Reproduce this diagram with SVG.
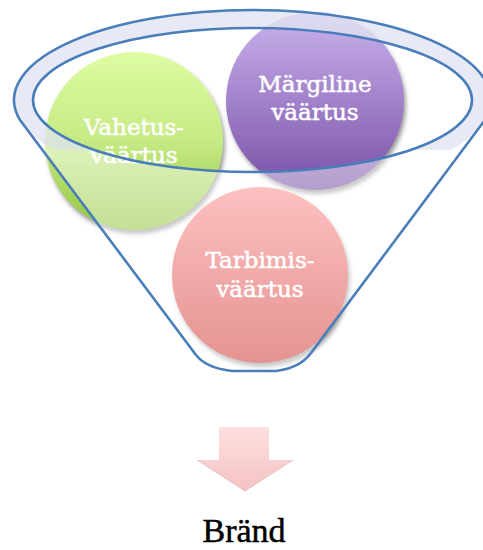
<svg xmlns="http://www.w3.org/2000/svg" width="483" height="550" viewBox="0 0 483 550">
<style>
.lbl{font-family:"DejaVu Serif","Liberation Serif",serif;font-size:23px;fill:#ffffff;stroke:#ffffff;stroke-width:0.5;text-anchor:middle}
.brand{font-family:"Liberation Serif","DejaVu Serif",serif;font-size:34px;fill:#000000;stroke:#000000;stroke-width:0.5;text-anchor:middle}
.line{fill:none;stroke:#4a7ebb;stroke-width:2.6;stroke-linejoin:round}
</style>
<defs>
<linearGradient id="gGreen" x1="0" y1="0" x2="0" y2="1"><stop offset="0" stop-color="#defda2"/><stop offset="0.5" stop-color="#c6ea84"/><stop offset="1" stop-color="#92c53e"/></linearGradient>
<linearGradient id="gPurple" x1="0" y1="0" x2="0" y2="1"><stop offset="0" stop-color="#cbb3ee"/><stop offset="1" stop-color="#7850a6"/></linearGradient>
<linearGradient id="gPink" x1="0" y1="0" x2="0" y2="1"><stop offset="0" stop-color="#fb8e8e"/><stop offset="1" stop-color="#cf3a36"/></linearGradient>
<linearGradient id="gArrow" x1="0" y1="0" x2="0" y2="1"><stop offset="0" stop-color="#fde0e0"/><stop offset="1" stop-color="#f5c2c2"/></linearGradient>
<filter id="shadow" x="-10%" y="-10%" width="125%" height="130%">
<feGaussianBlur in="SourceAlpha" stdDeviation="2"/>
<feOffset dx="2" dy="4" result="b"/>
<feFlood flood-color="#7a7a7a" flood-opacity="0.75"/>
<feComposite in2="b" operator="in" result="s"/>
<feMerge><feMergeNode in="s"/><feMergeNode in="SourceGraphic"/></feMerge>
</filter>
<clipPath id="bandClip"><rect x="0" y="0" width="483" height="150"/></clipPath>
</defs>
<g id="node-vahetus">
<circle cx="134" cy="141" r="89" fill="url(#gGreen)" filter="url(#shadow)"/>
<text class="lbl" x="134" y="135">Vahetus-</text>
<text class="lbl" x="134" y="163">väärtus</text>
</g>
<g id="node-margiline">
<circle cx="315" cy="101" r="89" fill="url(#gPurple)" filter="url(#shadow)"/>
<text class="lbl" x="315" y="92">Märgiline</text>
<text class="lbl" x="315" y="120">väärtus</text>
</g>
<g id="node-tarbimis">
<circle cx="260" cy="275" r="88" fill="url(#gPink)" filter="url(#shadow)"/>
<text class="lbl" x="260" y="268">Tarbimis-</text>
<text class="lbl" x="260" y="297">väärtus</text>
</g>
<g id="node-funnel">
<path d="M20,120 A238.5,90 0 1 1 485,120 L311,353 Q300,368 276,371 L232,371 Q206,368 196,355 Z M33,100 A219.5,72 0 1 0 472,100 A219.5,72 0 1 0 33,100 Z" fill="#ffffff" fill-opacity="0.45" fill-rule="evenodd"/>
<path clip-path="url(#bandClip)" d="M14,100 A238.5,90 0 1 0 491,100 A238.5,90 0 1 0 14,100 Z M33,100 A219.5,72 0 1 0 472,100 A219.5,72 0 1 0 33,100 Z" fill="#d7dcec" fill-opacity="0.6" fill-rule="evenodd"/>
<path class="line" d="M20,120 A238.5,90 0 1 1 485,120 L311,353 Q300,368 276,371 L232,371 Q206,368 196,355 Z"/>
<ellipse class="line" cx="252.5" cy="100" rx="219.5" ry="72"/>
</g>
<g id="connectors">
<path d="M219,427 L269,427 L269,460 L293,460 L245,491 L197,460 L219,460 Z" fill="url(#gArrow)"/>
<path d="M197,460 L245,491 L293,460" fill="none" stroke="#d9a3a3" stroke-width="0.8" stroke-opacity="0.7"/>
</g>
<g id="node-brand">
<text class="brand" x="244" y="542">Bränd</text>
</g>
</svg>
